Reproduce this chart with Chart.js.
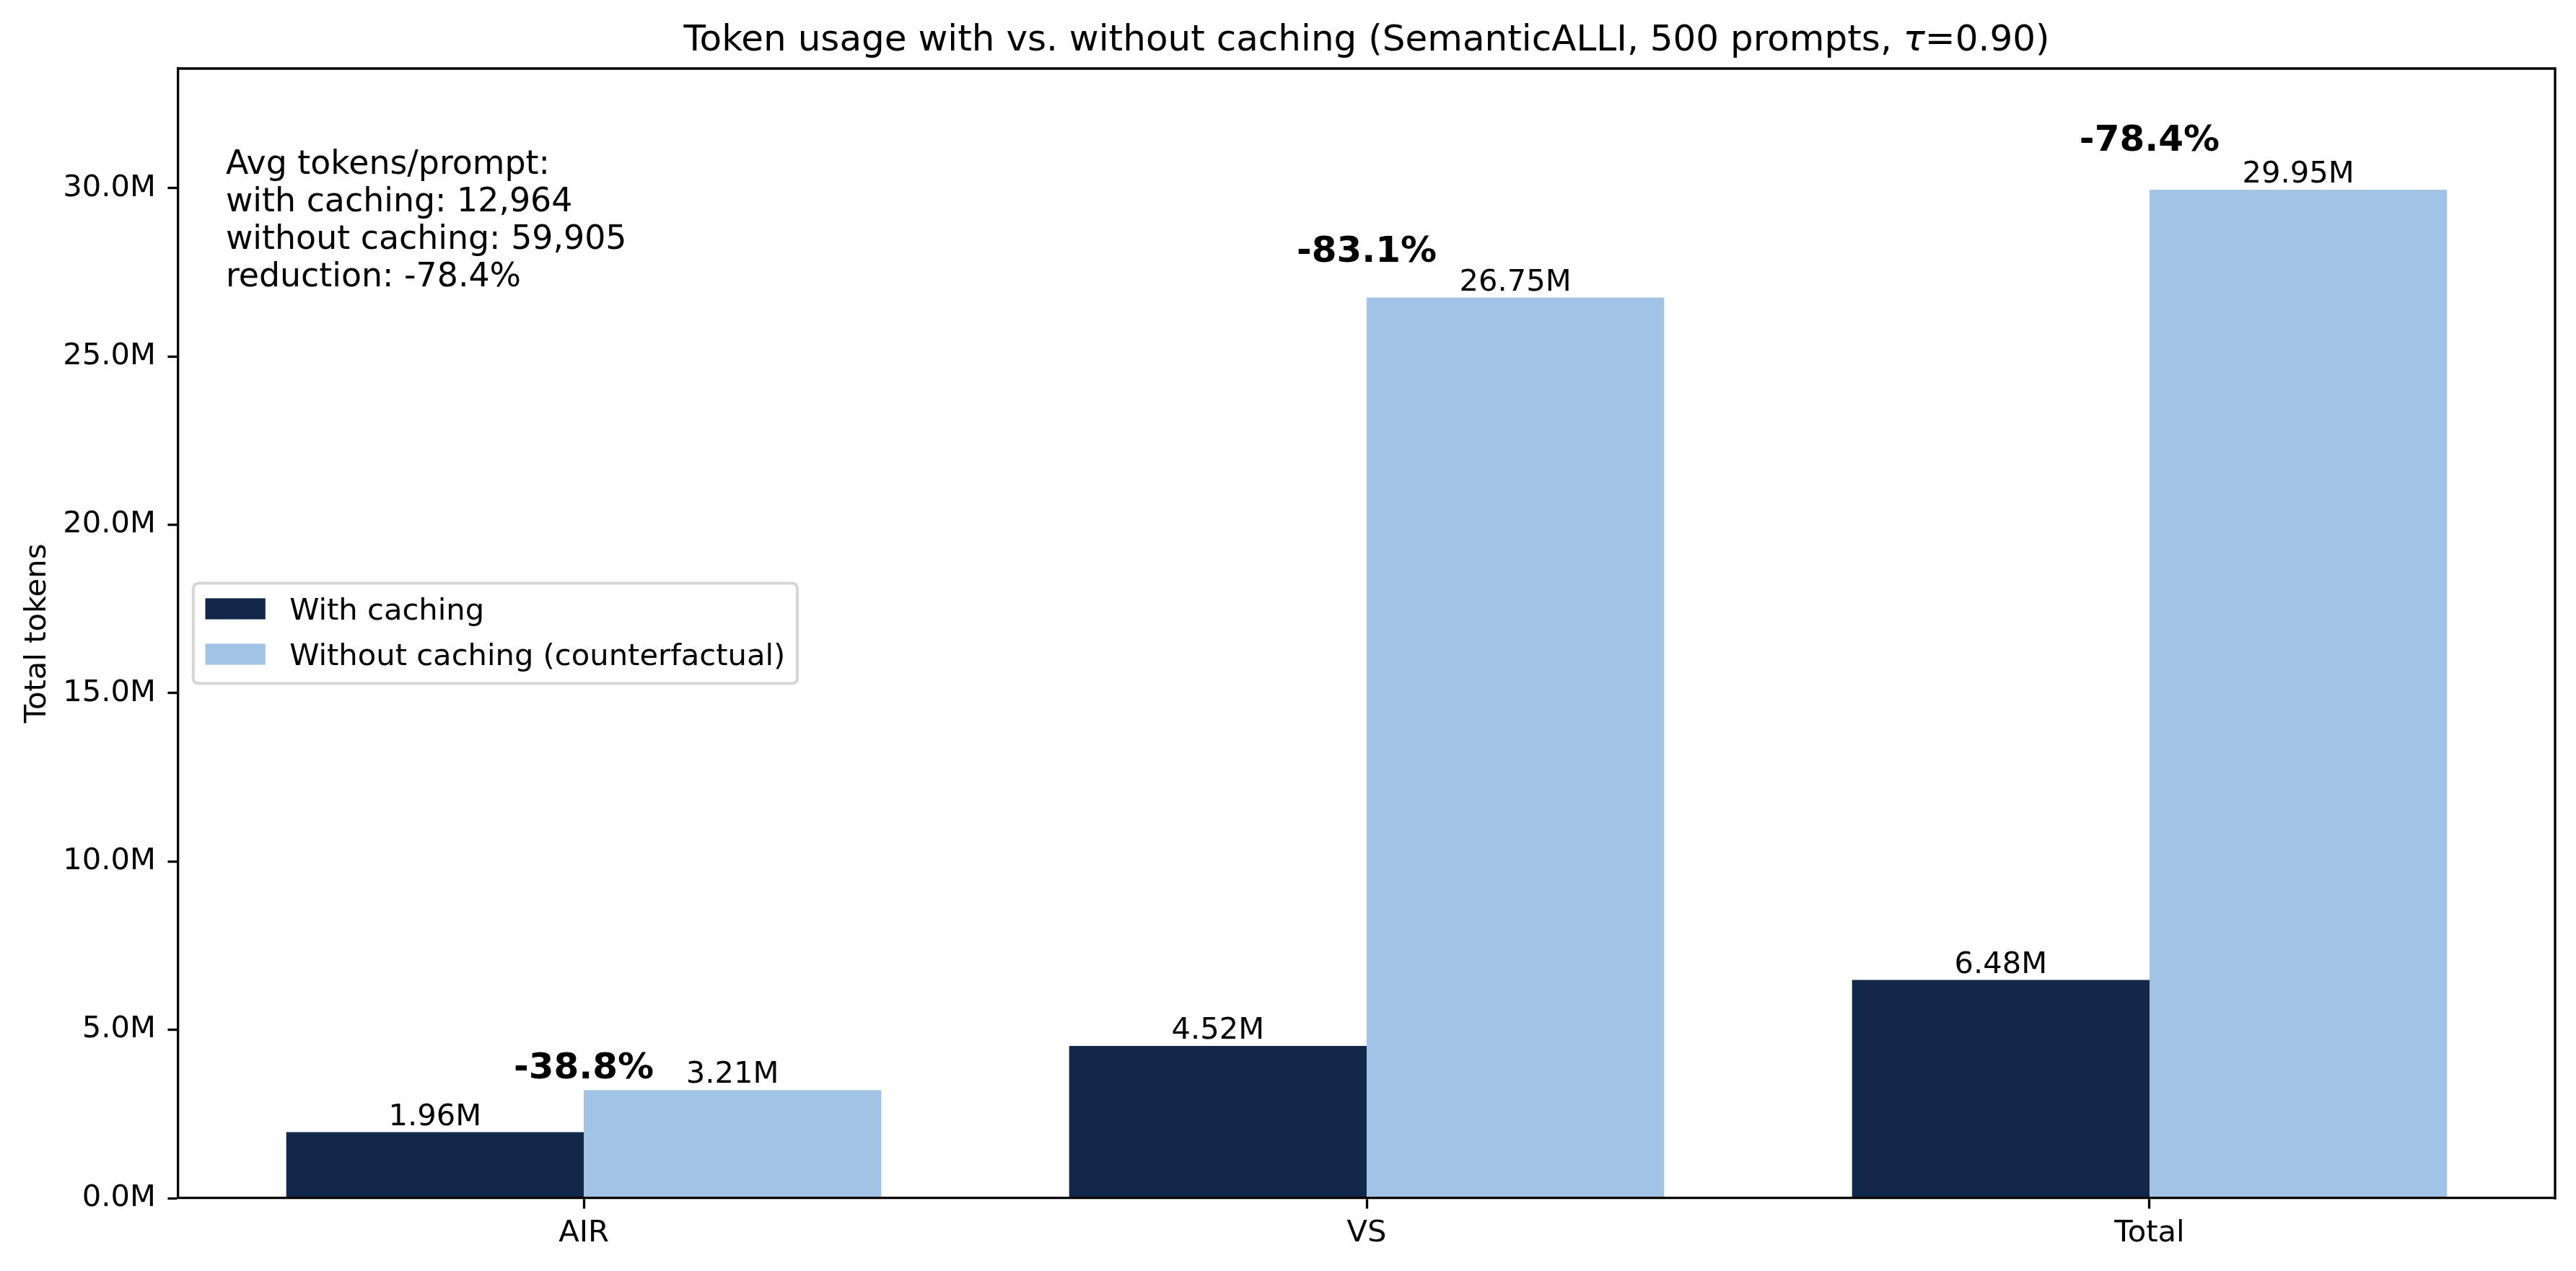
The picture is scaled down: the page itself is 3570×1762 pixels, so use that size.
<!DOCTYPE html>
<html>
<head>
<meta charset="utf-8">
<script src="https://cdn.jsdelivr.net/npm/chart.js@4.4.1/dist/chart.umd.min.js"></script>
<style>
html,body{margin:0;padding:0;background:#ffffff;}
canvas{display:block;}
</style>
</head>
<body>
<canvas id="c" width="3570" height="1762" style="width:3570px;height:1762px"></canvas>
<script>
// ---- data ----
const categories = ['AIR', 'VS', 'Total'];
const withCaching = [1.96e6, 4.52e6, 6.482e6];
const withoutCaching = [3.21e6, 26.75e6, 29.9525e6];
const reductionLabels = ['-38.8%', '-83.1%', '-78.4%'];
const yTickValues = [0, 5e6, 10e6, 15e6, 20e6, 25e6, 30e6];
const seriesNames = ['With caching', 'Without caching (counterfactual)'];
const infoLines = ['Avg tokens/prompt:', 'with caching: 12,964', 'without caching: 59,905', 'reduction: -78.4%'];
const titleBefore = 'Token usage with vs. without caching (SemanticALLI, 500 prompts, ';
const titleSymbol = 'τ';
const titleAfter = '=0.90)';
const yAxisLabel = 'Total tokens';

// ---- style ----
const FONT = '"DejaVu Sans", "Liberation Sans", sans-serif';
const FS = 41.67;       // 10pt @300dpi
const FS_TITLE = 50;    // 12pt
const FS_INFO = 45.83;  // 11pt
const LW = 3.33;        // 0.8pt
const TICK = 14.58;     // 3.5pt
const C_DARK = '#12284a';
const C_LIGHT = '#a0c3e6';
const colors = [C_DARK, C_LIGHT];

const overlay = {
  id: 'overlay',
  afterDraw(chart) {
    const {ctx, chartArea: ca, scales: {x, y}} = chart;
    ctx.save();
    // top & right spines
    ctx.strokeStyle = '#000';
    ctx.lineWidth = LW;
    ctx.lineCap = 'square';
    ctx.beginPath();
    ctx.moveTo(ca.left, ca.top);
    ctx.lineTo(ca.right, ca.top);
    ctx.lineTo(ca.right, ca.bottom);
    ctx.stroke();

    ctx.fillStyle = '#000';
    // title
    const cx = (ca.left + ca.right) / 2;
    const fN = FS_TITLE + 'px ' + FONT;
    const fI = 'italic ' + FS_TITLE + 'px ' + FONT;
    ctx.textBaseline = 'alphabetic';
    ctx.textAlign = 'left';
    ctx.font = fN; const w1 = ctx.measureText(titleBefore).width;
    ctx.font = fI; const w2 = ctx.measureText(titleSymbol).width;
    ctx.font = fN; const w3 = ctx.measureText(titleAfter).width;
    let tx = cx - (w1 + w2 + w3) / 2;
    const ty = ca.top - 25;
    ctx.font = fN; ctx.fillText(titleBefore, tx, ty); tx += w1;
    ctx.font = fI; ctx.fillText(titleSymbol, tx, ty); tx += w2;
    ctx.font = fN; ctx.fillText(titleAfter, tx, ty);

    // y axis label
    ctx.save();
    ctx.translate(62.7, (ca.top + ca.bottom) / 2);
    ctx.rotate(-Math.PI / 2);
    ctx.font = FS + 'px ' + FONT;
    ctx.textAlign = 'center';
    ctx.fillText(yAxisLabel, 0, 0);
    ctx.restore();

    // value labels above bars
    ctx.font = FS + 'px ' + FONT;
    ctx.textAlign = 'center';
    [withCaching, withoutCaching].forEach((arr, di) => {
      const meta = chart.getDatasetMeta(di);
      arr.forEach((v, i) => {
        const el = meta.data[i];
        ctx.fillText((v / 1e6).toFixed(2) + 'M', el.x, el.y - 9.8);
      });
    });

    // reduction labels
    ctx.font = 'bold ' + FS_TITLE + 'px ' + FONT;
    categories.forEach((c, i) => {
      const top = Math.max(withCaching[i], withoutCaching[i]) * 1.03;
      ctx.fillText(reductionLabels[i], x.getPixelForValue(i), y.getPixelForValue(top) - 11.8);
    });

    // info text
    ctx.font = FS_INFO + 'px ' + FONT;
    ctx.textAlign = 'left';
    const ix = ca.left + 0.02 * (ca.right - ca.left);
    infoLines.forEach((t, k) => ctx.fillText(t, ix, 240.5 + k * 52.2));

    // legend
    ctx.font = FS + 'px ' + FONT;
    const maxW = Math.max(...seriesNames.map(s => ctx.measureText(s).width));
    const lx = ca.left + 0.5 * FS;
    const handleX = lx + 0.4 * FS;
    const textX = handleX + 2 * FS + 0.8 * FS;
    const lw = textX + maxW + 0.4 * FS - lx;
    const lh = 139;
    const ly = (ca.top + ca.bottom) / 2 - lh / 2;
    const r = 0.2 * FS;
    ctx.beginPath();
    ctx.moveTo(lx + r, ly);
    ctx.lineTo(lx + lw - r, ly);
    ctx.quadraticCurveTo(lx + lw, ly, lx + lw, ly + r);
    ctx.lineTo(lx + lw, ly + lh - r);
    ctx.quadraticCurveTo(lx + lw, ly + lh, lx + lw - r, ly + lh);
    ctx.lineTo(lx + r, ly + lh);
    ctx.quadraticCurveTo(lx, ly + lh, lx, ly + lh - r);
    ctx.lineTo(lx, ly + r);
    ctx.quadraticCurveTo(lx, ly, lx + r, ly);
    ctx.closePath();
    ctx.fillStyle = 'rgba(255,255,255,0.8)';
    ctx.fill();
    ctx.strokeStyle = 'rgba(204,204,204,0.8)';
    ctx.lineWidth = 4.17;
    ctx.stroke();
    seriesNames.forEach((s, k) => {
      const rowC = ly + 35.5 + k * 63;
      ctx.fillStyle = colors[k];
      ctx.fillRect(handleX, rowC - 14.6, 2 * FS, 0.7 * FS);
      ctx.fillStyle = '#000';
      ctx.fillText(s, textX, rowC + 14.8);
    });
    ctx.restore();
  }
};

new Chart(document.getElementById('c'), {
  type: 'bar',
  data: {
    datasets: [
      {
        label: seriesNames[0],
        data: categories.map((c, i) => ({x: i, y: withCaching[i]})),
        backgroundColor: C_DARK,
        borderWidth: 0,
        categoryPercentage: 0.76,
        barPercentage: 1.0
      },
      {
        label: seriesNames[1],
        data: categories.map((c, i) => ({x: i, y: withoutCaching[i]})),
        backgroundColor: C_LIGHT,
        borderWidth: 0,
        categoryPercentage: 0.76,
        barPercentage: 1.0
      }
    ]
  },
  options: {
    responsive: false,
    animation: false,
    devicePixelRatio: 1,
    layout: {padding: {left: 0, top: 95, right: 29, bottom: 0}},
    plugins: {legend: {display: false}, title: {display: false}, tooltip: {enabled: false}},
    scales: {
      x: {
        type: 'linear',
        min: -0.518,
        max: 2.518,
        offset: false,
        afterBuildTicks: s => { s.ticks = categories.map((c, i) => ({value: i})); },
        afterFit: s => { s.height = 101; },
        ticks: {
          callback: v => categories[v] !== undefined ? categories[v] : '',
          font: {family: FONT, size: FS},
          color: '#000',
          padding: 9.5,
          maxRotation: 0,
          autoSkip: false
        },
        grid: {display: true, offset: false, drawOnChartArea: false, drawTicks: true,
               tickLength: TICK, tickWidth: LW, tickColor: '#000'},
        border: {display: true, color: '#000', width: LW, z: 1}
      },
      y: {
        type: 'linear',
        min: 0,
        max: 33.55e6,
        afterBuildTicks: s => { s.ticks = yTickValues.map(v => ({value: v})); },
        afterFit: s => { s.width = 247; },
        ticks: {
          callback: v => (v / 1e6).toFixed(1) + 'M',
          font: {family: FONT, size: FS},
          color: '#000',
          padding: 16.4
        },
        grid: {display: true, drawOnChartArea: false, drawTicks: true,
               tickLength: TICK, tickWidth: LW, tickColor: '#000'},
        border: {display: true, color: '#000', width: LW, z: 1}
      }
    }
  },
  plugins: [overlay]
});
</script>
</body>
</html>
